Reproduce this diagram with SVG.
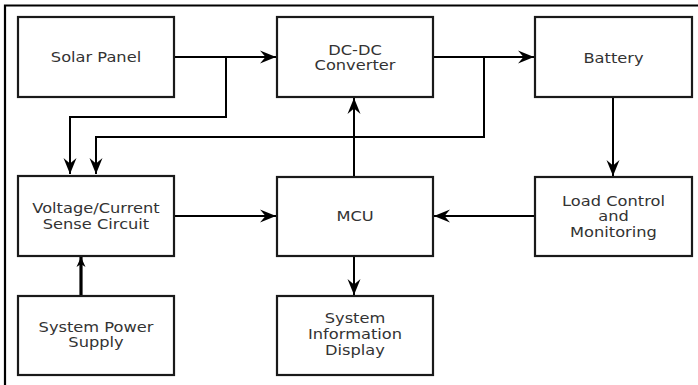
<svg xmlns="http://www.w3.org/2000/svg" width="698" height="385" viewBox="0 0 698 385">
<style>
  .box { fill: #ffffff; stroke: #1a1a1a; stroke-width: 2.2; }
  .lbl { font-family: "DejaVu Sans", "Liberation Sans", sans-serif; font-size: 14px; fill: #333333; text-anchor: middle; }
  .wire { fill: none; stroke: #000000; stroke-width: 2; }
  .thick { fill: none; stroke: #000000; stroke-width: 3.2; }
  .frame { fill: none; stroke: #000000; stroke-width: 2.2; }
</style>
<defs>
  <marker id="arr" markerUnits="userSpaceOnUse" markerWidth="18" markerHeight="14" viewBox="-16 -7 17 14" refX="0" refY="0" orient="auto">
    <path d="M0,0 L-16,-6.5 L-10.5,0 L-16,6.5 Z" fill="#000000"/>
  </marker>
  <marker id="arrs" markerUnits="userSpaceOnUse" markerWidth="12" markerHeight="10" viewBox="-10 -5 11 10" refX="0" refY="0" orient="auto">
    <path d="M0,0 L-10,-4.5 L-7,0 L-10,4.5 Z" fill="#000000"/>
  </marker>
</defs>
<rect width="698" height="385" fill="#ffffff"/>
<path class="frame" d="M5,385 L5,5.5 L698,5.5"/>

<g id="connectors">
  <path class="wire" d="M174,57 L276,57" marker-end="url(#arr)"/>
  <path class="wire" d="M226,57 L226,117 L70,117 L70,174" marker-end="url(#arr)"/>
  <path class="wire" d="M433,57 L534,57" marker-end="url(#arr)"/>
  <path class="wire" d="M484,57 L484,137 L96,137 L96,174" marker-end="url(#arr)"/>
  <path class="wire" d="M613,97 L613,176" marker-end="url(#arr)"/>
  <path class="wire" d="M174,216 L276,216" marker-end="url(#arr)"/>
  <path class="wire" d="M535,216 L434,216" marker-end="url(#arr)"/>
  <path class="wire" d="M354,177 L354,98" marker-end="url(#arr)"/>
  <path class="wire" d="M354,256 L354,295" marker-end="url(#arr)"/>
  <path class="thick" d="M81,296 L81,257" marker-end="url(#arrs)"/>
</g>

<g id="solar-panel">
  <rect class="box" x="18" y="17" width="156" height="80"/>
  <g transform="translate(96,0) scale(1.16,1)"><text class="lbl" x="0" y="62">Solar Panel</text></g>
</g>
<g id="dc-dc-converter">
  <rect class="box" x="277" y="17" width="156" height="80"/>
  <g transform="translate(355,0) scale(1.16,1)">
    <text class="lbl" x="0" y="55">DC-DC</text>
    <text class="lbl" x="0" y="70">Converter</text>
  </g>
</g>
<g id="battery">
  <rect class="box" x="535" y="17" width="157" height="80"/>
  <g transform="translate(613.5,0) scale(1.16,1)"><text class="lbl" x="0" y="63">Battery</text></g>
</g>
<g id="voltage-current-sense">
  <rect class="box" x="18" y="176" width="156" height="80"/>
  <g transform="translate(96,0) scale(1.16,1)">
    <text class="lbl" x="0" y="213">Voltage/Current</text>
    <text class="lbl" x="0" y="229">Sense Circuit</text>
  </g>
</g>
<g id="mcu">
  <rect class="box" x="277" y="177" width="156" height="79"/>
  <g transform="translate(355,0) scale(1.16,1)"><text class="lbl" x="0" y="221">MCU</text></g>
</g>
<g id="load-control">
  <rect class="box" x="535" y="177" width="157" height="79"/>
  <g transform="translate(613.5,0) scale(1.16,1)">
    <text class="lbl" x="0" y="206">Load Control</text>
    <text class="lbl" x="0" y="221">and</text>
    <text class="lbl" x="0" y="237">Monitoring</text>
  </g>
</g>
<g id="system-power-supply">
  <rect class="box" x="18" y="296" width="156" height="79"/>
  <g transform="translate(96,0) scale(1.16,1)">
    <text class="lbl" x="0" y="332">System Power</text>
    <text class="lbl" x="0" y="347">Supply</text>
  </g>
</g>
<g id="system-information-display">
  <rect class="box" x="277" y="296" width="156" height="79"/>
  <g transform="translate(355,0) scale(1.16,1)">
    <text class="lbl" x="0" y="323">System</text>
    <text class="lbl" x="0" y="339">Information</text>
    <text class="lbl" x="0" y="355">Display</text>
  </g>
</g>
</svg>
